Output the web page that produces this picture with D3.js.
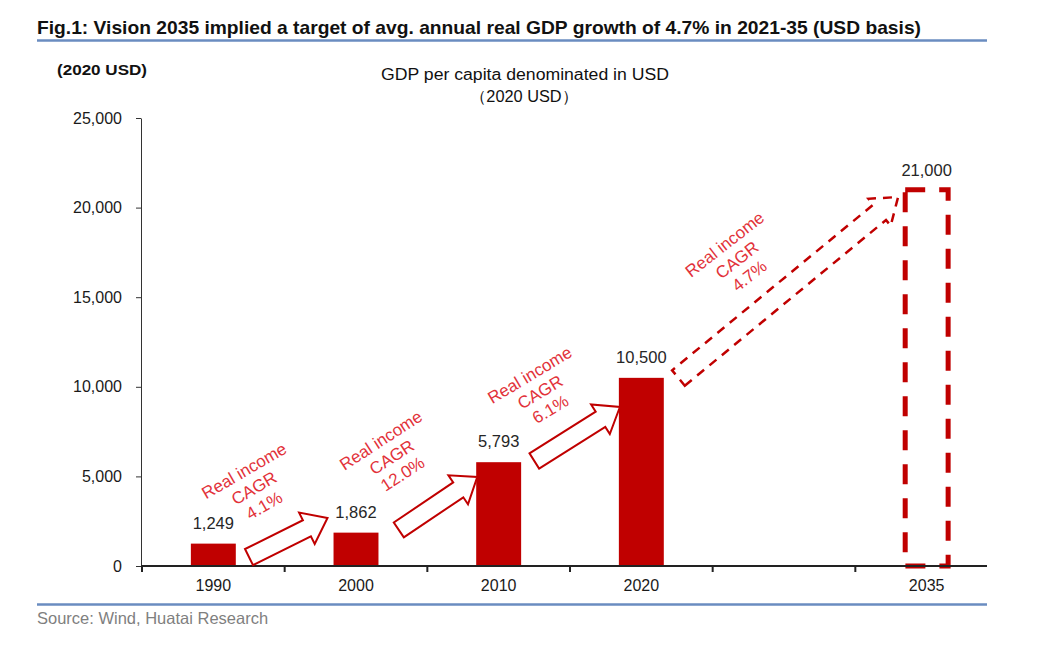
<!DOCTYPE html>
<html>
<head>
<meta charset="utf-8">
<script src="https://cdn.jsdelivr.net/npm/d3@7"></script>
<style>
  html, body { margin: 0; padding: 0; background: #fff; }
  svg { display: block; font-family: "Liberation Sans", Arial, sans-serif; }
</style>
</head>
<body>
<svg id="chart" width="1038" height="665"></svg>
<script>
// ---- data ----
const categories = ["1990", "2000", "2010", "2020", "", "2035"];
const actualYears = ["1990", "2000", "2010", "2020"];
const actualValues = [1249, 1862, 5793, 10500];
const targetYears = ["2035"];
const targetValues = [21000];
const yTicks = [0, 5000, 10000, 15000, 20000, 25000];
// growth annotations: tail/tip positions in (band-index units, value)
const cagrLabels = ["4.1%", "12.0%", "6.1%", "4.7%"];
const arrowTailPos = [0.75, 1.80, 2.75, 3.76];
const arrowTailVal = [500, 2010, 5860, 10490];
const arrowTipPos = [1.30, 2.35, 3.35, 5.30];
const arrowTipVal = [2680, 4970, 8870, 20590];
const arrowDashed = [false, false, false, true];
const labelPos = [0.785, 1.75, 2.79, 4.17];
const labelVal = [4350, 6080, 9710, 17080];
const labelAngle = [-30, -33, -31, -38];

// ---- layout ----
const svg = d3.select("#chart");
const plotLeft = 142, plotRight = 998, axisEnd = 987;
const yTop = 118, yBottom = 566;
const red = "#C00000";
const annoRed = "#E2323A";
const blue = "#6A8CC0";

const x = d3.scaleBand().domain(categories.map((c, i) => c || "gap" + i))
  .range([plotLeft, plotRight]).paddingInner(0.685).paddingOuter(0.3425);
const keyOf = c => c;
const y = d3.scaleLinear().domain([0, 25000]).range([yBottom, yTop]);
const xAt = t => plotLeft + t * x.step();

// title
svg.append("text").attr("x", 37).attr("y", 34)
  .attr("font-size", 18.5).attr("font-weight", "bold").attr("fill", "#111")
  .attr("textLength", 884).attr("lengthAdjust", "spacingAndGlyphs")
  .text("Fig.1: Vision 2035 implied a target of avg. annual real GDP growth of 4.7% in 2021-35 (USD basis)");
svg.append("line").attr("x1", 37).attr("x2", axisEnd).attr("y1", 40.5).attr("y2", 40.5)
  .attr("stroke", blue).attr("stroke-width", 2.5);

// unit + chart subtitle
svg.append("text").attr("x", 57).attr("y", 75)
  .attr("font-size", 15).attr("font-weight", "bold").attr("fill", "#111")
  .attr("textLength", 90).attr("lengthAdjust", "spacingAndGlyphs")
  .text("(2020 USD)");
svg.append("text").attr("x", 525).attr("y", 80).attr("text-anchor", "middle")
  .attr("font-size", 16).attr("fill", "#111")
  .attr("textLength", 288).attr("lengthAdjust", "spacingAndGlyphs")
  .text("GDP per capita denominated in USD");
svg.append("text").attr("x", 524).attr("y", 102).attr("text-anchor", "middle")
  .attr("font-size", 16).attr("fill", "#111")
  .attr("textLength", 108).attr("lengthAdjust", "spacingAndGlyphs")
  .text("（2020 USD）");

// y axis
const yAxis = svg.append("g").attr("transform", `translate(${plotLeft - 1},0)`)
  .call(d3.axisLeft(y).tickValues(yTicks).tickFormat(d3.format(",")).tickSize(5).tickSizeOuter(0).tickPadding(14));
yAxis.select(".domain").attr("stroke", "#333");
yAxis.selectAll(".tick line").attr("stroke", "#333");
yAxis.selectAll(".tick text").attr("font-size", 16).attr("fill", "#1a1a1a")
  .attr("font-family", "'Liberation Sans', Arial, sans-serif");

// bars
svg.append("g").selectAll("rect").data(actualYears).join("rect")
  .attr("x", d => x(keyOf(d))).attr("width", x.bandwidth())
  .attr("y", (d, i) => y(actualValues[i]))
  .attr("height", (d, i) => y(0) - y(actualValues[i]))
  .attr("fill", red);

// target (dashed) bar
svg.append("g").selectAll("rect").data(targetYears).join("rect")
  .attr("x", d => x(keyOf(d)) + 1).attr("width", x.bandwidth() - 2)
  .attr("y", (d, i) => y(targetValues[i]))
  .attr("height", (d, i) => y(0) - y(targetValues[i]))
  .attr("fill", "none").attr("stroke", red).attr("stroke-width", 5)
  .attr("stroke-dasharray", "20,14");

// x axis line + ticks at band boundaries
svg.append("line").attr("x1", plotLeft - 1).attr("x2", axisEnd).attr("y1", yBottom).attr("y2", yBottom)
  .attr("stroke", "#222").attr("stroke-width", 2);
svg.append("g").selectAll("line").data(d3.range(categories.length)).join("line")
  .attr("x1", i => xAt(i)).attr("x2", i => xAt(i))
  .attr("y1", yBottom).attr("y2", yBottom + 6)
  .attr("stroke", "#222").attr("stroke-width", 2);
const xAxis = svg.append("g").attr("transform", `translate(0,${yBottom})`)
  .call(d3.axisBottom(x).tickSize(0).tickPadding(14).tickFormat(d => d.startsWith("gap") ? "" : d));
xAxis.select(".domain").remove();
xAxis.selectAll(".tick text").attr("font-size", 16).attr("fill", "#1a1a1a")
  .attr("font-family", "'Liberation Sans', Arial, sans-serif");

// value labels
const allYears = actualYears.concat(targetYears);
const allValues = actualValues.concat(targetValues);
svg.append("g").selectAll("text").data(allYears).join("text")
  .attr("x", d => x(keyOf(d)) + x.bandwidth() / 2)
  .attr("y", (d, i) => y(allValues[i]) - (i === allYears.length - 1 ? 14 : 15))
  .attr("text-anchor", "middle").attr("font-size", 16.5).attr("fill", "#262626")
  .text((d, i) => d3.format(",")(allValues[i]));

// block arrows
function arrowPath(x1, y1, x2, y2, w, hw, hl) {
  const dx = x2 - x1, dy = y2 - y1, L = Math.hypot(dx, dy);
  const ux = dx / L, uy = dy / L, nx = -uy, ny = ux;
  const nkx = x2 - ux * hl, nky = y2 - uy * hl;
  const p = [
    [x1 + nx * w / 2, y1 + ny * w / 2],
    [nkx + nx * w / 2, nky + ny * w / 2],
    [nkx + nx * hw / 2, nky + ny * hw / 2],
    [x2, y2],
    [nkx - nx * hw / 2, nky - ny * hw / 2],
    [nkx - nx * w / 2, nky - ny * w / 2],
    [x1 - nx * w / 2, y1 - ny * w / 2]
  ];
  return "M" + p.map(q => q[0].toFixed(1) + "," + q[1].toFixed(1)).join("L") + "Z";
}
const arrows = svg.append("g");
cagrLabels.forEach((lab, i) => {
  const dashed = arrowDashed[i];
  arrows.append("path")
    .attr("d", arrowPath(xAt(arrowTailPos[i]), y(arrowTailVal[i]), xAt(arrowTipPos[i]), y(arrowTipVal[i]),
      dashed ? 20 : 18, 35, dashed ? 24 : 23))
    .attr("fill", dashed ? "none" : "#fff")
    .attr("stroke", red).attr("stroke-width", dashed ? 2.5 : 2)
    .attr("stroke-linejoin", "miter")
    .attr("stroke-dasharray", dashed ? "9,7" : null);
});

// CAGR labels
const labels = svg.append("g");
cagrLabels.forEach((lab, i) => {
  const cx = xAt(labelPos[i]), cy = y(labelVal[i]);
  const t = labels.append("text")
    .attr("transform", `translate(${cx},${cy}) rotate(${labelAngle[i]})`)
    .attr("text-anchor", "middle").attr("font-size", 17).attr("fill", annoRed);
  ["Real income", "CAGR", lab].forEach((s, k) => {
    t.append("tspan").attr("x", 0).attr("y", (k - 1) * 20 + 6).text(s);
  });
});

// bottom rule + source
svg.append("line").attr("x1", 37).attr("x2", axisEnd).attr("y1", 604.5).attr("y2", 604.5)
  .attr("stroke", blue).attr("stroke-width", 2.5);
svg.append("text").attr("x", 37).attr("y", 624)
  .attr("font-size", 16.5).attr("fill", "#7f7f7f")
  .text("Source: Wind, Huatai Research");
</script>
</body>
</html>
